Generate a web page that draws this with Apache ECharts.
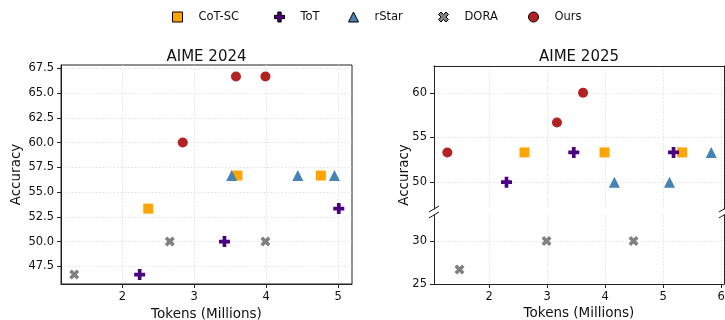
<!DOCTYPE html>
<html><head><meta charset="utf-8">
<script src="https://cdn.jsdelivr.net/npm/echarts@6/dist/echarts.min.js"></script>
<style>html,body{margin:0;padding:0;background:#fff}#c{width:725px;height:320px}</style>
</head><body><div id="c"></div>
<script>
// ---- data ----
const methods = ['CoT-SC', 'ToT', 'rStar', 'DORA', 'Ours'];
const colors = ['#FFA500', '#4B0082', '#4682B4', '#808080', '#B22222'];
// AIME 2024: [tokens (millions), accuracy]
const aime24_cotsc = [[2.36, 53.33], [3.60, 56.67], [4.76, 56.67]];
const aime24_tot   = [[2.24, 46.67], [3.42, 50.0], [5.01, 53.33]];
const aime24_rstar = [[3.52, 56.67], [4.44, 56.67], [4.95, 56.67]];
const aime24_dora  = [[1.33, 46.67], [2.66, 50.0], [3.99, 50.0]];
const aime24_ours  = [[2.84, 60.0], [3.58, 66.67], [3.99, 66.67]];
// AIME 2025
const aime25_cotsc = [[2.61, 53.33], [3.99, 53.33], [5.33, 53.33]];
const aime25_tot   = [[2.30, 50.0], [3.46, 53.33], [5.18, 53.33]];
const aime25_rstar = [[4.16, 50.0], [5.11, 50.0], [5.83, 53.33]];
const aime25_dora  = [[1.49, 26.67], [2.99, 30.0], [4.49, 30.0]];
const aime25_ours  = [[1.28, 53.33], [3.17, 56.67], [3.62, 60.0]];
// tick labels
const xTicks24 = [2, 3, 4, 5];
const xTicks25 = [2, 3, 4, 5, 6];
const yTicks24 = [47.5, 50, 52.5, 55, 57.5, 60, 62.5, 65, 67.5];
const yTicks25Top = [50, 55, 60];
const yTicks25Bottom = [25, 30];
const breakValue = 40;

// ---- styling ----
const FONT = 'DejaVu Sans';
const plusPath = 'path://M-1,-3H1V-1H3V1H1V3H-1V1H-3V-1H-1Z';
const xPath = 'path://M2,-4L4,-2L2,0L4,2L2,4L0,2L-2,4L-4,2L-2,0L-4,-2L-2,-4L0,-2Z';
const symbols = ['rect', plusPath, 'triangle', xPath, 'circle'];
const sizes = [10, 11, 11, 10, 10];
const data24 = [aime24_cotsc, aime24_tot, aime24_rstar, aime24_dora, aime24_ours];
const data25 = [aime25_cotsc, aime25_tot, aime25_rstar, aime25_dora, aime25_ours];

const spine = '#222';
const gridLine = {show: true, lineStyle: {color: '#d9d9d9', type: [1.5, 2], width: 0.8}};
const tickLabel = {color: '#111', fontFamily: FONT, fontSize: 11.5};
const nameStyle = {color: '#111', fontFamily: FONT, fontSize: 13.5};

const grids = [
  {left: 61, top: 65, width: 291, height: 219, show: true, borderColor: spine, borderWidth: 1, outerBoundsMode: 'none', containLabel: false},
  {left: 434, top: 66, width: 290, height: 143, outerBoundsMode: 'none', containLabel: false},
  {left: 434, top: 215, width: 290, height: 69, outerBoundsMode: 'none', containLabel: false}
];

const xAxes = [
  {gridIndex: 0, type: 'value', min: 1.146, max: 5.194, position: 'bottom',
   axisLine: {show: true, lineStyle: {color: spine}}, axisTick: {show: true, length: 4, customValues: xTicks24, lineStyle: {color: spine}},
   axisLabel: Object.assign({customValues: xTicks24, margin: 7}, tickLabel), splitLine: gridLine,
   name: 'Tokens (Millions)', nameLocation: 'middle', nameGap: 21, nameTextStyle: nameStyle},
  {gridIndex: 1, type: 'value', min: 1.05, max: 6.05, position: 'bottom',
   axisLine: {show: false}, axisTick: {show: false, customValues: xTicks25}, axisLabel: {show: false, customValues: xTicks25}, splitLine: gridLine},
  {gridIndex: 2, type: 'value', min: 1.05, max: 6.05, position: 'bottom',
   axisLine: {show: true, lineStyle: {color: spine}}, axisTick: {show: true, length: 4, customValues: xTicks25, lineStyle: {color: spine}},
   axisLabel: Object.assign({customValues: xTicks25, margin: 7}, tickLabel), splitLine: gridLine,
   name: 'Tokens (Millions)', nameLocation: 'middle', nameGap: 22.5, nameTextStyle: nameStyle},
  {gridIndex: 1, type: 'value', min: 1.05, max: 6.05, position: 'top',
   axisLine: {show: true, onZero: false, lineStyle: {color: spine}}, axisTick: {show: false}, axisLabel: {show: false}, splitLine: {show: false}}
];

const yAxes = [
  {gridIndex: 0, type: 'value', min: 45.72, max: 67.83, position: 'left',
   axisLine: {show: true, onZero: false, lineStyle: {color: spine}}, axisTick: {show: true, length: 4, customValues: yTicks24, lineStyle: {color: spine}},
   axisLabel: Object.assign({customValues: yTicks24, margin: 7, formatter: v => Number(v).toFixed(1)}, tickLabel), splitLine: gridLine,
   name: 'Accuracy', nameLocation: 'middle', nameGap: 38, nameTextStyle: nameStyle},
  {gridIndex: 1, type: 'value', min: 47, max: 63, position: 'left',
   axisLine: {show: true, onZero: false, lineStyle: {color: spine}}, axisTick: {show: true, length: 4, customValues: yTicks25Top, lineStyle: {color: spine}},
   axisLabel: Object.assign({customValues: yTicks25Top, margin: 7}, tickLabel), splitLine: gridLine},
  {gridIndex: 2, type: 'value', min: 25, max: 33, position: 'left',
   axisLine: {show: true, onZero: false, lineStyle: {color: spine}}, axisTick: {show: true, length: 4, customValues: yTicks25Bottom, lineStyle: {color: spine}},
   axisLabel: Object.assign({customValues: yTicks25Bottom, margin: 7}, tickLabel), splitLine: gridLine},
  {gridIndex: 1, type: 'value', min: 47, max: 63, position: 'right',
   axisLine: {show: true, onZero: false, lineStyle: {color: spine}}, axisTick: {show: false}, axisLabel: {show: false}, splitLine: {show: false}},
  {gridIndex: 2, type: 'value', min: 25, max: 33, position: 'right',
   axisLine: {show: true, onZero: false, lineStyle: {color: spine}}, axisTick: {show: false}, axisLabel: {show: false}, splitLine: {show: false}}
];

const series = [];
methods.forEach((m, i) => {
  const base = {name: m, type: 'scatter', symbol: symbols[i], symbolSize: sizes[i],
                itemStyle: {color: colors[i], opacity: 1}, z: 2 + i, silent: true};
  series.push(Object.assign({}, base, {xAxisIndex: 0, yAxisIndex: 0, data: data24[i]}));
  const top = data25[i].filter(p => p[1] >= breakValue);
  const bottom = data25[i].filter(p => p[1] < breakValue);
  series.push(Object.assign({}, base, {xAxisIndex: 1, yAxisIndex: 1, data: top}));
  series.push(Object.assign({}, base, {xAxisIndex: 2, yAxisIndex: 2, data: bottom}));
});

const legendLefts = [172, 274, 348, 438, 528];
const legends = methods.map((m, i) => ({
  data: [{name: m, icon: symbols[i]}],
  left: legendLefts[i], top: 11, padding: 0, itemWidth: 10, itemHeight: 10,
  selectedMode: false,
  itemStyle: {borderColor: '#000', borderWidth: 1},
  textStyle: {color: '#111', fontFamily: FONT, fontSize: 11.5, padding: [0, 0, 0, 11]}
}));

function breakMark(x, y) {
  return {type: 'line', shape: {x1: x - 5, y1: y + 3, x2: x + 5, y2: y - 3}, style: {stroke: '#111', lineWidth: 1}};
}

const option = {
  backgroundColor: '#fff',
  animation: false,
  title: [
    {text: 'AIME 2024', left: 206.5, top: 50, padding: 0, textAlign: 'center',
     textStyle: {fontFamily: FONT, fontSize: 15, fontWeight: 'normal', color: '#111'}},
    {text: 'AIME 2025', left: 579, top: 50, padding: 0, textAlign: 'center',
     textStyle: {fontFamily: FONT, fontSize: 15, fontWeight: 'normal', color: '#111'}}
  ],
  legend: legends,
  grid: grids,
  xAxis: xAxes,
  yAxis: yAxes,
  series: series,
  graphic: [
    breakMark(434, 209), breakMark(434, 215), breakMark(724, 209), breakMark(724, 215),
    {type: 'text', x: 404, y: 175, rotation: Math.PI / 2,
     style: {text: 'Accuracy', fill: '#111', font: '13.5px "DejaVu Sans"', align: 'center', verticalAlign: 'middle'}}
  ]
};
const chart = echarts.init(document.getElementById('c'), null, {renderer: 'canvas'});
chart.setOption(option);
</script>
</body></html>
